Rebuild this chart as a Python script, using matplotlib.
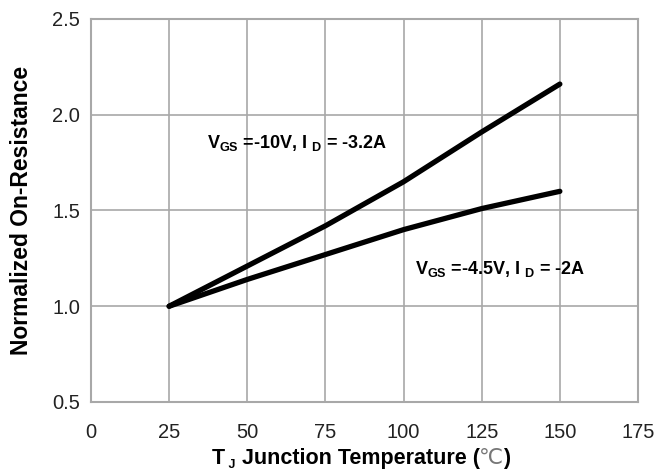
import numpy as np
import matplotlib.pyplot as plt

plt.rcParams['font.family'] = ['Liberation Sans', 'DejaVu Sans']
plt.rcParams['mathtext.fontset'] = 'custom'
plt.rcParams['mathtext.rm'] = 'Liberation Sans'
plt.rcParams['mathtext.bf'] = 'Liberation Sans:bold'

# junction temperature (C) and normalized on-resistance
temp = [25, 50, 75, 100, 125, 150]
r_10v = [1.0, 1.21, 1.42, 1.65, 1.91, 2.16]
r_4v5 = [1.0, 1.14, 1.27, 1.40, 1.51, 1.60]

x_ticks = [0, 25, 50, 75, 100, 125, 150, 175]
y_ticks = [0.5, 1.0, 1.5, 2.0, 2.5]

fig = plt.figure(figsize=(6.72, 4.74), dpi=100)
ax = fig.add_axes([0.1354, 0.1519, 0.8140, 0.8081])

ax.plot(temp, r_10v, color='black', lw=3.8, solid_capstyle='round', solid_joinstyle='round')
ax.plot(temp, r_4v5, color='black', lw=3.8, solid_capstyle='round', solid_joinstyle='round')

ax.set_xlim(0, 175)
ax.set_ylim(0.5, 2.5)
ax.set_xticks(x_ticks)
ax.set_yticks(y_ticks)
ax.set_yticklabels(['%.1f' % v for v in y_ticks])
ax.grid(True, color='#a8a8a8', lw=1.2)
ax.set_axisbelow(True)
for s in ax.spines.values():
    s.set_color('#a8a8a8')
    s.set_linewidth(1.5)
ax.tick_params(length=0, labelsize=14.5, labelcolor='#222222')
ax.tick_params(axis='x', pad=15)
ax.tick_params(axis='y', pad=8)

ax.set_ylabel('Normalized On-Resistance', fontsize=16.5, fontweight='bold', labelpad=14)

# x label in pieces: subscript J and the degree sign in its own font
y0 = 10 / 474
prev = fig.text(212 / 672, y0, 'T', fontsize=15.5, fontweight='bold',
                va='baseline', ha='left')
parts = [(' J', dict(fontsize=9, fontweight='bold'), -3),
         (' Junction Temperature (', dict(fontsize=15.5, fontweight='bold'), 0),
         ('℃', dict(fontsize=15.5, family='DejaVu Sans', color='#777777'), 0),
         (')', dict(fontsize=15.5, fontweight='bold'), 0)]
for s, style, dy in parts:
    prev = ax.annotate(s, xy=(1, y0), xycoords=(prev, 'figure fraction'),
                       xytext=(0, dy), textcoords='offset points',
                       va='baseline', ha='left', annotation_clip=False, **style)

ax.text(37, 1.85, r'V$_{\mathbf{GS}}$ =-10V, I $_{\mathbf{D}}$ = -3.2A',
        fontsize=13, fontweight='bold', va='center', ha='left')
ax.text(103.5, 1.195, r'V$_{\mathbf{GS}}$ =-4.5V, I $_{\mathbf{D}}$ = -2A',
        fontsize=13, fontweight='bold', va='center', ha='left')

fig.savefig('out.png', dpi=100)
